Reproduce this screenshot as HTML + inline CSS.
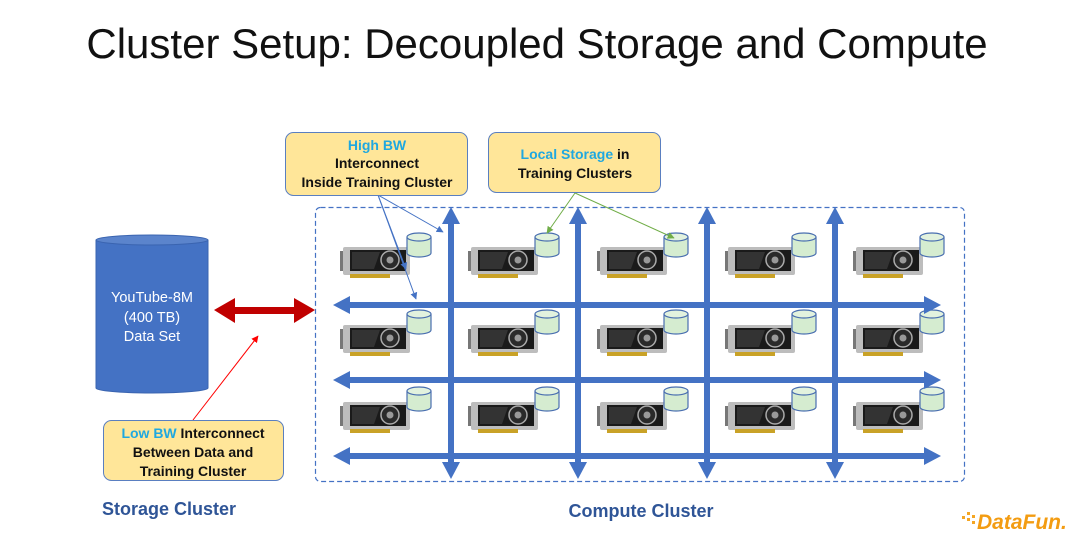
<!DOCTYPE html>
<html><head><meta charset="utf-8"><style>
html,body{margin:0;padding:0;background:#fff;}
svg{display:block;font-family:"Liberation Sans","DejaVu Sans",sans-serif;}
</style></head><body>
<svg width="1080" height="541" viewBox="0 0 1080 541" xmlns="http://www.w3.org/2000/svg">
<defs>
<symbol id="gpu" overflow="visible">
  <rect x="0" y="4" width="4" height="20" fill="#777"/>
  <rect x="3" y="0" width="67" height="28" rx="2" fill="#bdbdbd"/>
  <rect x="10" y="3" width="56" height="21" fill="#1a1a1a"/>
  <polygon points="12,5 40,5 34,22 12,22" fill="#333"/>
  <circle cx="50" cy="13" r="9" fill="#2a2a2a" stroke="#aaa" stroke-width="1.5"/>
  <circle cx="50" cy="13" r="3.5" fill="#999"/>
  <rect x="10" y="27" width="40" height="4" fill="#c9a227"/>
</symbol>
<symbol id="cyl" overflow="visible">
  <path d="M0,4 L0,20 A12,4 0 0 0 24,20 L24,4" fill="#d5ecd0" stroke="#4a6fb0" stroke-width="1.2"/>
  <ellipse cx="12" cy="4" rx="12" ry="4" fill="#e2f2de" stroke="#4a6fb0" stroke-width="1.2"/>
</symbol>
<marker id="ab" viewBox="0 0 10 10" refX="9" refY="5" markerWidth="7" markerHeight="7" orient="auto"><path d="M0,0 L10,5 L0,10 z" fill="#4472c4"/></marker>
<marker id="ag" viewBox="0 0 10 10" refX="9" refY="5" markerWidth="7" markerHeight="7" orient="auto"><path d="M0,0 L10,5 L0,10 z" fill="#70ad47"/></marker>
<marker id="ar" viewBox="0 0 10 10" refX="9" refY="5" markerWidth="7" markerHeight="7" orient="auto"><path d="M0,0 L10,5 L0,10 z" fill="#ff0000"/></marker>
</defs>

<text x="537" y="58" text-anchor="middle" font-size="42" fill="#111">Cluster Setup: Decoupled Storage and Compute</text>

<rect x="315.5" y="207.5" width="649" height="274" rx="5" fill="none" stroke="#4472c4" stroke-width="1.2" stroke-dasharray="5,3"/>

<g>
<use href="#gpu" x="340" y="247"/><use href="#gpu" x="468" y="247"/><use href="#gpu" x="597" y="247"/><use href="#gpu" x="725" y="247"/><use href="#gpu" x="853" y="247"/>
<use href="#gpu" x="340" y="325"/><use href="#gpu" x="468" y="325"/><use href="#gpu" x="597" y="325"/><use href="#gpu" x="725" y="325"/><use href="#gpu" x="853" y="325"/>
<use href="#gpu" x="340" y="402"/><use href="#gpu" x="468" y="402"/><use href="#gpu" x="597" y="402"/><use href="#gpu" x="725" y="402"/><use href="#gpu" x="853" y="402"/>
<use href="#cyl" x="407" y="233"/><use href="#cyl" x="535" y="233"/><use href="#cyl" x="664" y="233"/><use href="#cyl" x="792" y="233"/><use href="#cyl" x="920" y="233"/>
<use href="#cyl" x="407" y="310"/><use href="#cyl" x="535" y="310"/><use href="#cyl" x="664" y="310"/><use href="#cyl" x="792" y="310"/><use href="#cyl" x="920" y="310"/>
<use href="#cyl" x="407" y="387"/><use href="#cyl" x="535" y="387"/><use href="#cyl" x="664" y="387"/><use href="#cyl" x="792" y="387"/><use href="#cyl" x="920" y="387"/>
</g>

<g fill="#4472c4">
  <rect x="348" y="302" width="578" height="6"/>
  <polygon points="333,305 350,296 350,314"/><polygon points="941,305 924,296 924,314"/>
  <rect x="348" y="377" width="578" height="6"/>
  <polygon points="333,380 350,371 350,389"/><polygon points="941,380 924,371 924,389"/>
  <rect x="348" y="453" width="578" height="6"/>
  <polygon points="333,456 350,447 350,465"/><polygon points="941,456 924,447 924,465"/>
  <rect x="448" y="222" width="6" height="242"/>
  <polygon points="451,207 442,224 460,224"/><polygon points="451,479 442,462 460,462"/>
  <rect x="575" y="222" width="6" height="242"/>
  <polygon points="578,207 569,224 587,224"/><polygon points="578,479 569,462 587,462"/>
  <rect x="704" y="222" width="6" height="242"/>
  <polygon points="707,207 698,224 716,224"/><polygon points="707,479 698,462 716,462"/>
  <rect x="832" y="222" width="6" height="242"/>
  <polygon points="835,207 826,224 844,224"/><polygon points="835,479 826,462 844,462"/>
</g>

<path d="M96,240 L96,388 A56,5 0 0 0 208,388 L208,240" fill="#4472c4" stroke="#3a64b0" stroke-width="1"/>
<ellipse cx="152" cy="240" rx="56" ry="5" fill="#5b84cc" stroke="#3a64b0" stroke-width="1"/>
<g fill="#fff" font-size="14.5" text-anchor="middle">
<text x="152" y="302">YouTube-8M</text><text x="152" y="322">(400 TB)</text><text x="152" y="341">Data Set</text>
</g>

<g fill="#c00000">
  <rect x="228" y="307" width="70" height="7"/>
  <polygon points="214,310 235,298 235,323"/><polygon points="315,310 294,298 294,323"/>
</g>

<line x1="378" y1="195" x2="443" y2="232" stroke="#4472c4" stroke-width="1" marker-end="url(#ab)"/>
<line x1="378" y1="195" x2="406" y2="269" stroke="#4472c4" stroke-width="1" marker-end="url(#ab)"/>
<line x1="378" y1="195" x2="416" y2="299" stroke="#4472c4" stroke-width="1" marker-end="url(#ab)"/>
<line x1="575" y1="193" x2="547" y2="233" stroke="#70ad47" stroke-width="1" marker-end="url(#ag)"/>
<line x1="575" y1="193" x2="674" y2="238" stroke="#70ad47" stroke-width="1" marker-end="url(#ag)"/>
<line x1="193" y1="420" x2="258" y2="336" stroke="#ff0000" stroke-width="1" marker-end="url(#ar)"/>

<g font-size="14" font-weight="bold" text-anchor="middle" fill="#111">
<rect x="285.5" y="132.5" width="182" height="63" rx="8" fill="#ffe699" stroke="#5a7fc0" stroke-width="1"/>
<text x="377" y="150" fill="#1fa8e0">High BW</text>
<text x="377" y="168">Interconnect</text>
<text x="377" y="187">Inside Training Cluster</text>

<rect x="488.5" y="132.5" width="172" height="60" rx="8" fill="#ffe699" stroke="#5a7fc0" stroke-width="1"/>
<text x="575" y="159"><tspan fill="#1fa8e0">Local Storage</tspan> in</text>
<text x="575" y="178">Training Clusters</text>

<rect x="103.5" y="420.5" width="180" height="60" rx="8" fill="#ffe699" stroke="#5a7fc0" stroke-width="1"/>
<text x="193" y="438"><tspan fill="#1fa8e0">Low BW</tspan> Interconnect</text>
<text x="193" y="457">Between Data and</text>
<text x="193" y="476">Training Cluster</text>
</g>

<text x="169" y="515" text-anchor="middle" font-size="18" font-weight="bold" fill="#2f5597">Storage Cluster</text>
<text x="641" y="517" text-anchor="middle" font-size="18" font-weight="bold" fill="#2f5597">Compute Cluster</text>

<g fill="#f5a623">
<rect x="962" y="516" width="3" height="3"/><rect x="967" y="512" width="3" height="3"/><rect x="967" y="518" width="3" height="3"/><rect x="972" y="515" width="3" height="3"/><rect x="972" y="521" width="3" height="3"/>
</g>
<text x="977" y="529" font-size="21" font-weight="bold" font-style="italic" fill="#f39c12">DataFun.</text>
</svg>
</body></html>
